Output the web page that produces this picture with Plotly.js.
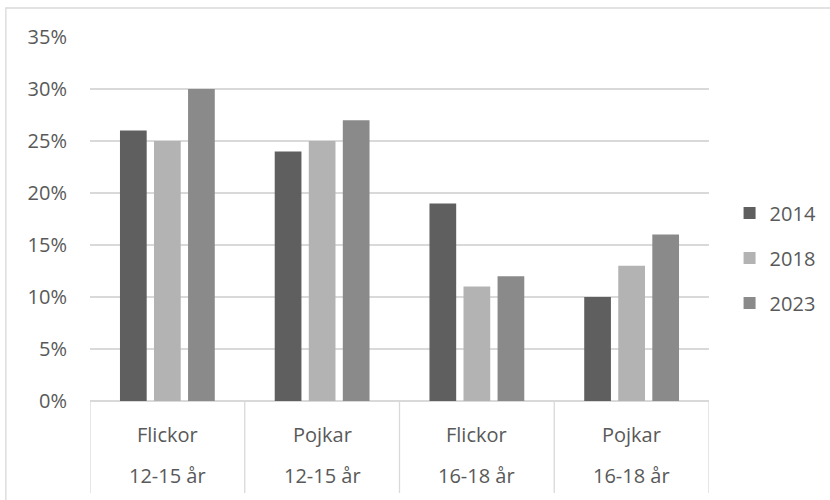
<!DOCTYPE html>
<html>
<head>
<meta charset="utf-8">
<script src="https://cdn.plot.ly/plotly-3.0.1.min.js"></script>
<style>html,body{margin:0;padding:0;background:#fff;}#chart{width:830px;height:500px;}</style>
</head>
<body>
<div id="chart"></div>
<script>
// Data
const categoryKeys = ["Flickor 12-15 år", "Pojkar 12-15 år", "Flickor 16-18 år", "Pojkar 16-18 år"];
const genderLabels = ["Flickor", "Pojkar", "Flickor", "Pojkar"];
const ageLabels = ["12-15 år", "12-15 år", "16-18 år", "16-18 år"];
const seriesNames = ["2014", "2018", "2023"];
const values2014 = [0.26, 0.24, 0.19, 0.10];
const values2018 = [0.25, 0.25, 0.11, 0.13];
const values2023 = [0.30, 0.27, 0.12, 0.16];
const yTickVals = [0, 0.05, 0.10, 0.15, 0.20, 0.25, 0.30, 0.35];
const yTickText = ["0%", "5%", "10%", "15%", "20%", "25%", "30%", "35%"];

const colors = ["#5f5f5f", "#b3b3b3", "#8a8a8a"];
const seriesValues = [values2014, values2018, values2023];
const FONT = "'Open Sans', 'Noto Sans', sans-serif";
const TXT = "#595959";

const traces = seriesNames.map((name, i) => ({
  type: "bar",
  name: name,
  x: categoryKeys,
  y: seriesValues[i],
  marker: {color: colors[i], line: {width: 0}},
  legendgroup: "g" + i,
  hoverinfo: "x+y+name"
}));

const annotations = [];
categoryKeys.forEach((c, i) => {
  annotations.push({x: c, xref: "x", y: -0.093, yref: "paper", text: genderLabels[i], showarrow: false,
    xanchor: "center", yanchor: "middle", font: {family: FONT, size: 20, color: TXT}});
  annotations.push({x: c, xref: "x", y: -0.205, yref: "paper", text: ageLabels[i], showarrow: false,
    xanchor: "center", yanchor: "middle", font: {family: FONT, size: 20, color: TXT}});
});

const shapes = [];
for (let k = 0; k <= categoryKeys.length; k++) {
  shapes.push({type: "line", xref: "x", yref: "paper", x0: k - 0.5, x1: k - 0.5, y0: 0, y1: -0.2527,
    line: {color: "#d9d9d9", width: 1.3}});
}
shapes.push({type: "rect", xref: "paper", yref: "paper", x0: -0.1359, x1: 1.3, y0: -0.5, y1: 1.0797,
  line: {color: "#d9d9d9", width: 1.3}, layer: "below"});

const layout = {
  width: 830, height: 500,
  margin: {l: 90, r: 121, t: 37, b: 99},
  paper_bgcolor: "#ffffff", plot_bgcolor: "#ffffff",
  font: {family: FONT, color: TXT, size: 20},
  barmode: "group",
  bargap: 0.34,
  bargroupgap: 0.215,
  showlegend: true,
  legend: {xref: "container", yref: "container", x: 0.879, xanchor: "left", y: 0.484, yanchor: "middle",
    tracegroupgap: 16, font: {family: FONT, size: 20, color: TXT}, bgcolor: "rgba(0,0,0,0)"},
  xaxis: {type: "category", showticklabels: false, showgrid: false, zeroline: false, showline: false,
    ticks: "", range: [-0.5, 3.5], fixedrange: true},
  yaxis: {range: [0, 0.35], tickvals: yTickVals, ticktext: yTickText, showgrid: true,
    gridcolor: "#d9d9d9", gridwidth: 1.3, zeroline: true, zerolinecolor: "#d9d9d9", zerolinewidth: 1.3,
    showline: false, ticks: "", ticklabelstandoff: 22, tickfont: {family: FONT, size: 20, color: TXT}, fixedrange: true},
  annotations: annotations,
  shapes: shapes
};

Plotly.newPlot("chart", traces, layout, {displayModeBar: false, staticPlot: true});
</script>
</body>
</html>
